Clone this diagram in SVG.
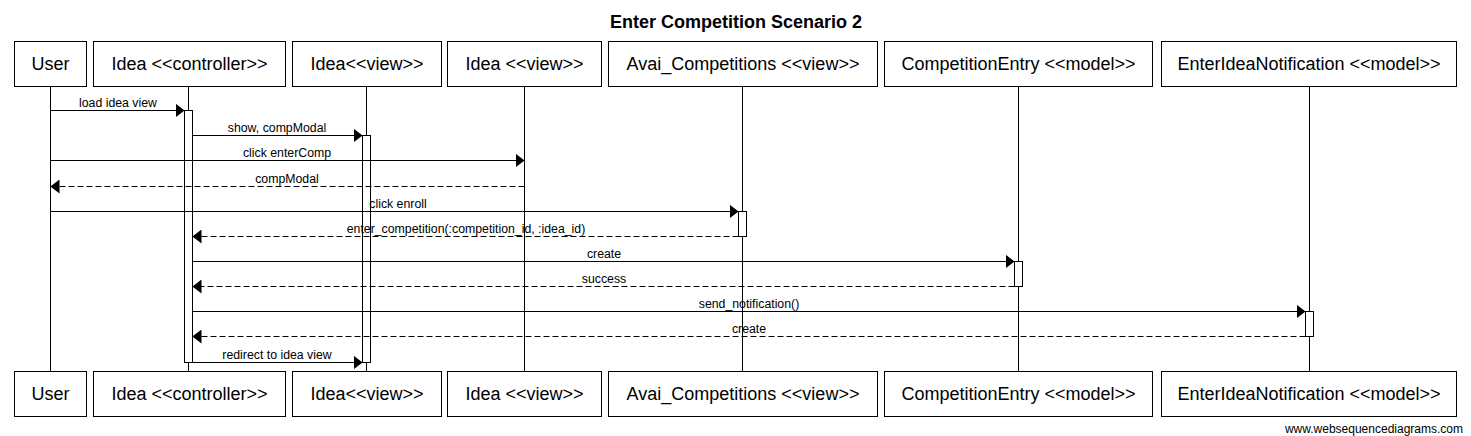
<svg xmlns="http://www.w3.org/2000/svg" width="1471" height="436" viewBox="0 0 1471 436">
<style>
  .box { fill: #ffffff; stroke: #000000; stroke-width: 1; }
  .life { stroke: #000000; stroke-width: 1; fill: none; }
  .act { fill: #ffffff; stroke: #000000; stroke-width: 1; }
  .name { font-family: "Liberation Sans", Arial, sans-serif; font-size: 18px; fill: #000000; text-anchor: middle; }
  .title { font-family: "Liberation Sans", Arial, sans-serif; font-size: 18px; font-weight: bold; fill: #000000; text-anchor: middle; }
  .lbl { font-family: "Liberation Sans", Arial, sans-serif; font-size: 12.3px; fill: #000000; text-anchor: middle; }
  .foot { font-family: "Liberation Sans", Arial, sans-serif; font-size: 12px; fill: #000000; text-anchor: end; }
  .msg { stroke: #000000; stroke-width: 1; fill: none; marker-end: url(#arrow); }
  .ret { stroke: #000000; stroke-width: 1; fill: none; stroke-dasharray: 6,3; marker-end: url(#arrow); }
</style>
<defs>
  <marker id="arrow" markerUnits="userSpaceOnUse" markerWidth="9" markerHeight="14" refX="9" refY="7" orient="auto">
    <path d="M0,0 L9,7 L0,14 z" fill="#000000"/>
  </marker>
</defs>
<rect width="1471" height="436" fill="#ffffff"/>
<text class="title" x="736" y="28">Enter Competition Scenario 2</text>

<g id="lifelines">
  <line class="life" x1="50.5" y1="86" x2="50.5" y2="371"/>
  <line class="life" x1="188.5" y1="86" x2="188.5" y2="371"/>
  <line class="life" x1="366.5" y1="86" x2="366.5" y2="371"/>
  <line class="life" x1="524.5" y1="86" x2="524.5" y2="371"/>
  <line class="life" x1="742.5" y1="86" x2="742.5" y2="371"/>
  <line class="life" x1="1018.5" y1="86" x2="1018.5" y2="371"/>
  <line class="life" x1="1309.5" y1="86" x2="1309.5" y2="371"/>
</g>

<g id="node-user">
  <rect class="box" x="14.5" y="41.5" width="72" height="45"/>
  <text class="name" x="50.5" y="70">User</text>
  <rect class="box" x="14.5" y="371.5" width="72" height="45"/>
  <text class="name" x="50.5" y="400">User</text>
</g>
<g id="node-idea-controller">
  <rect class="box" x="93.5" y="41.5" width="192" height="45"/>
  <text class="name" x="189.5" y="70">Idea &lt;&lt;controller&gt;&gt;</text>
  <rect class="box" x="93.5" y="371.5" width="192" height="45"/>
  <text class="name" x="189.5" y="400">Idea &lt;&lt;controller&gt;&gt;</text>
  <rect class="act" x="184.5" y="110.5" width="8" height="252"/>
</g>
<g id="node-idea-view-1">
  <rect class="box" x="292.5" y="41.5" width="149" height="45"/>
  <text class="name" x="367" y="70">Idea&lt;&lt;view&gt;&gt;</text>
  <rect class="box" x="292.5" y="371.5" width="149" height="45"/>
  <text class="name" x="367" y="400">Idea&lt;&lt;view&gt;&gt;</text>
  <rect class="act" x="362.5" y="135.5" width="8" height="227"/>
</g>
<g id="node-idea-view-2">
  <rect class="box" x="447.5" y="41.5" width="154" height="45"/>
  <text class="name" x="524.5" y="70">Idea &lt;&lt;view&gt;&gt;</text>
  <rect class="box" x="447.5" y="371.5" width="154" height="45"/>
  <text class="name" x="524.5" y="400">Idea &lt;&lt;view&gt;&gt;</text>
</g>
<g id="node-avai-competitions">
  <rect class="box" x="608.5" y="41.5" width="269" height="45"/>
  <text class="name" x="743" y="70">Avai_Competitions &lt;&lt;view&gt;&gt;</text>
  <rect class="box" x="608.5" y="371.5" width="269" height="45"/>
  <text class="name" x="743" y="400">Avai_Competitions &lt;&lt;view&gt;&gt;</text>
  <rect class="act" x="738.5" y="211.5" width="8" height="25"/>
</g>
<g id="node-competition-entry">
  <rect class="box" x="884.5" y="41.5" width="268" height="45"/>
  <text class="name" x="1018.5" y="70">CompetitionEntry &lt;&lt;model&gt;&gt;</text>
  <rect class="box" x="884.5" y="371.5" width="268" height="45"/>
  <text class="name" x="1018.5" y="400">CompetitionEntry &lt;&lt;model&gt;&gt;</text>
  <rect class="act" x="1014.5" y="261.5" width="8" height="25"/>
</g>
<g id="node-enter-idea-notification">
  <rect class="box" x="1161.5" y="41.5" width="295" height="45"/>
  <text class="name" x="1309" y="70">EnterIdeaNotification &lt;&lt;model&gt;&gt;</text>
  <rect class="box" x="1161.5" y="371.5" width="295" height="45"/>
  <text class="name" x="1309" y="400">EnterIdeaNotification &lt;&lt;model&gt;&gt;</text>
  <rect class="act" x="1305.5" y="311.5" width="8" height="25"/>
</g>

<g id="connectors">
  <line class="msg" x1="50.5" y1="110.5" x2="184.5" y2="110.5"/>
  <text class="lbl" x="118" y="106.5">load idea view</text>

  <line class="msg" x1="192.5" y1="135.5" x2="362.5" y2="135.5"/>
  <text class="lbl" x="277" y="131.5">show, compModal</text>

  <line class="msg" x1="50.5" y1="160.5" x2="524.5" y2="160.5"/>
  <text class="lbl" x="287" y="156.5">click enterComp</text>

  <line class="ret" x1="524.5" y1="186.5" x2="50.5" y2="186.5"/>
  <text class="lbl" x="287" y="182.5">compModal</text>

  <line class="msg" x1="50.5" y1="211.5" x2="738.5" y2="211.5"/>
  <text class="lbl" x="398" y="207.5">click enroll</text>

  <line class="ret" x1="738.5" y1="236.5" x2="192.5" y2="236.5"/>
  <text class="lbl" x="466" y="232.5">enter_competition(:competition_id, :idea_id)</text>

  <line class="msg" x1="192.5" y1="261.5" x2="1014.5" y2="261.5"/>
  <text class="lbl" x="604" y="257.5">create</text>

  <line class="ret" x1="1014.5" y1="286.5" x2="192.5" y2="286.5"/>
  <text class="lbl" x="604" y="282.5">success</text>

  <line class="msg" x1="192.5" y1="311.5" x2="1305.5" y2="311.5"/>
  <text class="lbl" x="749" y="307.5">send_notification()</text>

  <line class="ret" x1="1305.5" y1="336.5" x2="192.5" y2="336.5"/>
  <text class="lbl" x="749" y="332.5">create</text>

  <line class="msg" x1="192.5" y1="362.5" x2="362.5" y2="362.5"/>
  <text class="lbl" x="277" y="358.5">redirect to idea view</text>
</g>

<text class="foot" x="1463" y="433">www.websequencediagrams.com</text>
</svg>
